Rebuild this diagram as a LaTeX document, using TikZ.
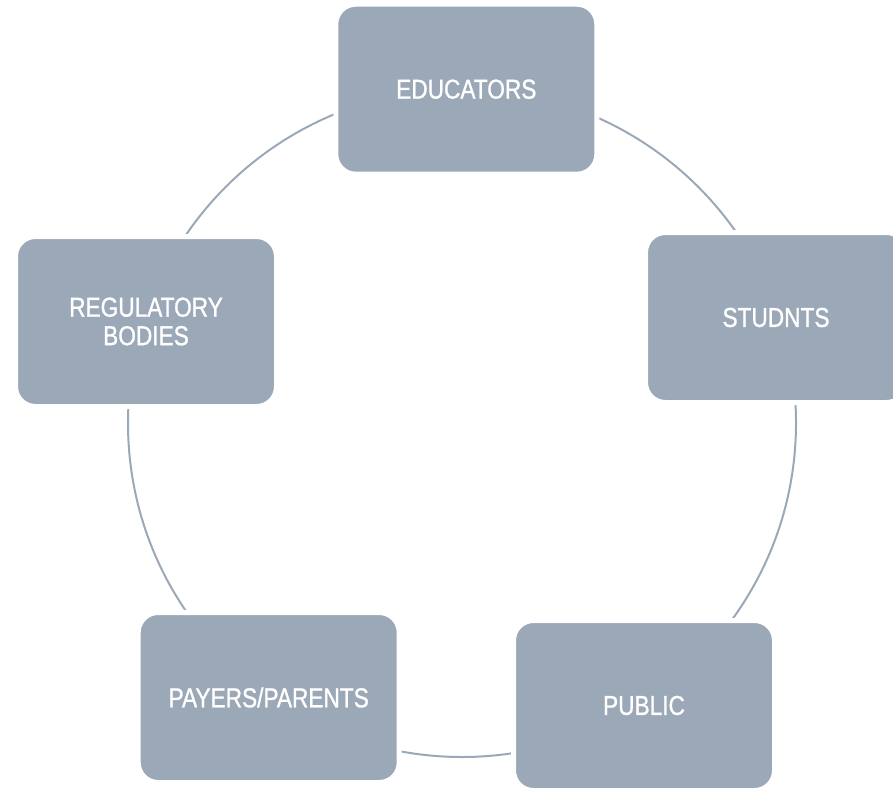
\documentclass[tikz,border=0pt]{standalone}
\usepackage{fontspec}
\setmainfont[FakeStretch=0.83,FakeBold=1]{Liberation Sans}
\usetikzlibrary{backgrounds}
\definecolor{boxgray}{HTML}{9BA8B7}
\begin{document}
\begin{tikzpicture}[x=1pt,y=-1pt,
  box/.style={rectangle, rounded corners=20pt, fill=boxgray, draw=white, line width=5pt,
    minimum width=261pt, minimum height=170pt, text=white, align=center,
    font=\fontsize{27.3}{28.5}\selectfont, outer sep=0pt, inner sep=0pt},
  link/.style={draw=boxgray, line width=2pt}]
\useasboundingbox (0,0) rectangle (893,789);
\clip (0,0) rectangle (893,789);
\coordinate (c) at (462,423);
\node[box] (edu) at (466.3,89.2) {EDUCATORS};
\node[box] (stu) at (776,317.5) {STUDNTS};
\node[box] (pub) at (644,705.5) {PUBLIC};
\node[box] (pay) at (268.7,697.5) {PAYERS/PARENTS};
\node[box] (reg) at (146,321.5) {REGULATORY\\BODIES};
\begin{scope}[on background layer]
\draw[link] (c) circle[radius=334pt];
\end{scope}
\end{tikzpicture}
\end{document}
